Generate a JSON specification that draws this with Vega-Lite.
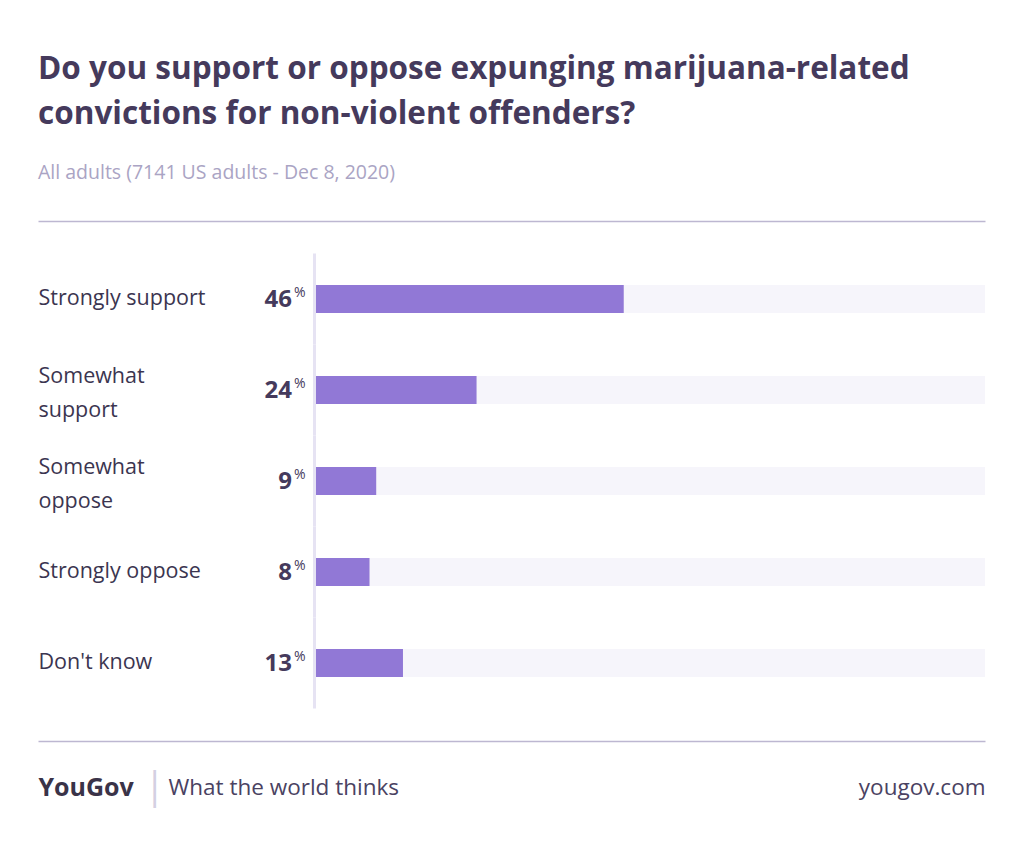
{
  "$schema": "https://vega.github.io/schema/vega-lite/v6.json",
  "width": 947,
  "height": 520,
  "autosize": {"type": "none"},
  "padding": {"left": 38, "right": 39, "top": 221, "bottom": 102},
  "background": "#ffffff",
  "config": {"view": {"stroke": null}, "font": "Open Sans"},
  "title": {
    "text": ["Do you support or oppose expunging marijuana-related", "convictions for non-violent offenders?"],
    "subtitle": "All adults (7141 US adults - Dec 8, 2020)",
    "anchor": "start",
    "frame": "group",
    "font": "Open Sans",
    "fontSize": 31.5,
    "fontWeight": "bold",
    "color": "#453a5c",
    "lineHeight": 45,
    "subtitleFont": "Open Sans",
    "subtitleFontSize": 19.5,
    "subtitleColor": "#aaa4c4",
    "subtitlePadding": 33,
    "offset": 39
  },
  "data": {
    "values": [
      {"label": "Strongly support", "value": 46},
      {"label": "Somewhat\nsupport", "value": 24},
      {"label": "Somewhat\noppose", "value": 9},
      {"label": "Strongly oppose", "value": 8},
      {"label": "Don't know", "value": 13}
    ]
  },
  "resolve": {"axis": {"x": "independent"}},
  "layer": [
    {
      "mark": {"type": "bar", "color": "#f6f5fb", "size": 28},
      "encoding": {
        "y": {
          "field": "label", "type": "nominal", "sort": null,
          "scale": {"paddingInner": 0, "paddingOuter": 0.357},
          "axis": {
            "title": null, "domain": false, "ticks": false,
            "labelAlign": "left", "labelPadding": 0, "labelBaseline": "middle",
            "labelFontSize": 21.5, "labelColor": "#3b3550", "labelFont": "Open Sans",
            "labelLineHeight": 34, "labelExpr": "split(datum.label, '\\n')",
            "labelOffset": {"expr": "indexof(datum.value, '\\n') >= 0 ? -13 : 0"},
            "labelLimit": 300
          }
        },
        "x": {
          "datum": 0, "type": "quantitative",
          "scale": {"domain": [-41.555, 100], "nice": false, "zero": false},
          "axis": {
            "orient": "top", "domain": true, "domainColor": "#bdb7d1", "domainWidth": 1.5,
            "ticks": false, "labels": false, "grid": false, "title": null
          }
        },
        "x2": {"datum": 100}
      }
    },
    {
      "mark": {"type": "bar", "color": "#e6e3f3"},
      "encoding": {
        "y": {"field": "label", "type": "nominal", "sort": null},
        "x": {"datum": -0.45, "type": "quantitative", "axis": null},
        "x2": {"datum": 0}
      }
    },
    {
      "mark": {"type": "bar", "color": "#9178d6", "size": 28},
      "encoding": {
        "y": {"field": "label", "type": "nominal", "sort": null},
        "x": {
          "field": "value", "type": "quantitative",
          "axis": {
            "orient": "bottom", "domain": true, "domainColor": "#bdb7d1", "domainWidth": 1.5,
            "ticks": false, "grid": false,
            "values": [-41.555, -24.2, 100],
            "labelExpr": "datum.value < -30 ? 'YouGov' : (datum.value < 0 ? '|' : 'yougov.com')",
            "labelAlign": {"expr": "datum.value < -30 ? 'left' : (datum.value < 0 ? 'center' : 'right')"},
            "labelFontWeight": {"expr": "datum.value < -30 ? 'bold' : 'normal'"},
            "labelFontSize": {"expr": "datum.value < -30 ? 25 : (datum.value < 0 ? 38 : 22.5)"},
            "labelColor": {"expr": "datum.value < -30 ? '#3a3348' : (datum.value < 0 ? '#d4d0e2' : '#4a4262')"},
            "labelFont": "Open Sans",
            "labelBaseline": "middle", "labelPadding": 46,
            "labelOverlap": false, "labelBound": false, "labelFlush": false,
            "title": "What the world thinks",
            "titleFont": "Open Sans", "titleFontSize": 22.5, "titleFontWeight": "normal",
            "titleColor": "#4a4262", "titleAlign": "left", "titleAnchor": "start",
            "titleBaseline": "middle", "titleX": 130, "titleY": 46
          }
        },
        "x2": {"datum": 0}
      }
    },
    {
      "mark": {"type": "text", "align": "right", "baseline": "middle", "dx": -24, "dy": 1, "fontSize": 24, "fontWeight": "bold", "color": "#453a5c", "font": "Open Sans"},
      "encoding": {
        "y": {"field": "label", "type": "nominal", "sort": null},
        "x": {"datum": 0, "type": "quantitative", "axis": null},
        "text": {"field": "value"}
      }
    },
    {
      "mark": {"type": "text", "align": "left", "baseline": "middle", "dx": -22, "dy": -6, "fontSize": 14, "color": "#453a5c", "font": "Open Sans"},
      "encoding": {
        "y": {"field": "label", "type": "nominal", "sort": null},
        "x": {"datum": 0, "type": "quantitative", "axis": null},
        "text": {"value": "%"}
      }
    }
  ]
}
